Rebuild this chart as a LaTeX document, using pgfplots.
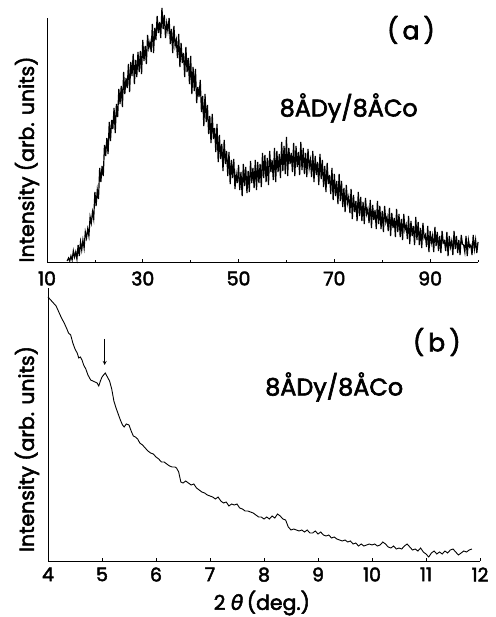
\documentclass[border=0pt]{standalone}
\usepackage{fontspec}
\setmainfont{Poppins}[FakeBold=2.5]
\newfontfamily\dejavu{DejaVu Sans}[FakeBold=2]
\usepackage{pgfplots}
\usepackage{pgfplotstable}
\pgfplotsset{compat=1.18}

\pgfplotstableread{
x y
14.2 1
14.5 4
14.75 1
15 6
15.25 2
15.5 11
15.75 5
16 10
16.25 3
16.5 17
16.75 6
17 20
17.25 12
17.5 22
17.75 14
18 30
18.25 24
18.5 33
18.75 26
19 45
19.25 39
19.5 50
19.75 43
20 70
20.25 56
20.5 72
20.75 63
21 94
21.25 80
21.5 96
21.75 86
22 117
22.25 106
22.5 124
22.75 108
23 140
23.25 121
23.5 142
23.75 133
24 154
24.25 129
24.5 158
24.75 145
25 173
25.25 158
25.5 176
25.75 155
26 190
26.25 168
26.5 184
26.75 174
27 198
27.25 170
27.5 200
27.75 186
28 208
28.25 178
28.5 202
28.75 185
29 210
29.25 190
29.5 211
29.75 188
30 222
30.25 201
30.5 216
30.75 198
31 227
31.25 214
31.5 220
31.75 210
32 238
32.25 209
32.5 234
32.75 222
33 246
33.25 229
33.5 240
33.75 224
34 254
34.25 233
34.5 247
34.75 224
35 239
35.25 231
35.5 244
35.75 218
36 233
36.25 209
36.5 236
36.75 216
37 222
37.25 204
37.5 228
37.75 195
38 219
38.25 199
38.5 209
38.75 185
39 215
39.25 190
39.5 204
39.75 178
40 206
40.25 168
40.5 195
40.75 171
41 193
41.25 159
41.5 175
41.75 165
42 182
42.25 150
42.5 166
42.75 136
43 168
43.25 140
43.5 157
43.75 128
44 146
44.25 119
44.5 148
44.75 123
45 134
45.25 110
45.5 138
45.75 100
46 127
46.25 103
46.5 118
46.75 91
47 122
47.25 98
47.5 111
47.75 86
48 110
48.25 78
48.5 102
48.75 84
49 103
49.25 73
49.5 88
49.75 79
50 97
50.25 72
50.5 90
50.75 66
51 98
51.25 76
51.5 95
51.75 69
52 91
52.25 70
52.5 101
52.75 79
53 94
53.25 74
53.5 102
53.75 72
54 100
54.25 79
54.5 98
54.75 75
55 109
55.25 84
55.5 107
55.75 80
56 104
56.25 77
56.5 111
56.75 90
57 102
57.25 82
57.5 114
57.75 80
58 111
58.25 90
58.5 108
58.75 84
59 120
59.25 91
59.5 116
59.75 88
60 125
60.25 86
60.5 114
60.75 98
61 109
61.25 90
61.5 119
61.75 86
62 116
62.25 95
62.5 110
62.75 87
63 120
63.25 92
63.5 114
63.75 88
64 109
64.25 85
64.5 113
64.75 94
65 102
65.25 85
65.5 111
65.75 80
66 106
66.25 87
66.5 100
66.75 77
67 108
67.25 83
67.5 102
67.75 75
68 96
68.25 70
68.5 99
68.75 78
69 87
69.25 68
69.5 94
69.75 62
70 88
70.25 66
70.5 81
70.75 58
71 88
71.25 61
71.5 81
71.75 55
72 74
72.25 50
72.5 77
72.75 59
73 65
73.25 49
73.5 73
73.75 43
74 67
74.25 50
74.5 61
74.75 41
75 70
75.25 46
75.5 65
75.75 41
76 60
76.25 38
76.5 64
76.75 48
77 53
77.25 39
77.5 62
77.75 34
78 57
78.25 42
78.5 52
78.75 33
79 61
79.25 38
79.5 56
79.75 33
80 51
80.25 30
80.5 56
80.75 40
81 45
81.25 31
81.5 54
81.75 26
82 49
82.25 34
82.5 44
82.75 25
83 53
83.25 30
83.5 48
83.75 25
84 43
84.25 22
84.5 48
84.75 32
85 37
85.25 23
85.5 46
85.75 18
86 41
86.25 26
86.5 36
86.75 17
87 45
87.25 22
87.5 40
87.75 17
88 34
88.25 14
88.5 39
88.75 24
89 27
89.25 15
89.5 36
89.75 10
90 31
90.25 19
90.5 26
90.75 10
91 35
91.25 16
91.5 30
91.75 11
92 26
92.25 9
92.5 31
92.75 19
93 21
93.25 11
93.5 30
93.75 6
94 26
94.25 15
94.5 21
94.75 7
95 31
95.25 13
95.5 26
95.75 9
96 22
96.25 7
96.5 27
96.75 18
97 17
97.25 10
97.5 26
97.75 6
98 22
98.25 15
98.5 17
98.75 7
99 27
99.25 13
99.5 22
99.75 9
100 20
}\dataA

\pgfplotstableread{
x y
4.00 264
4.05 261
4.10 258
4.15 255
4.20 249
4.25 243
4.30 238
4.35 232
4.38 228
4.42 226
4.46 218
4.50 212
4.54 208
4.57 203
4.60 204
4.63 201
4.66 196
4.70 192
4.74 186
4.79 181
4.83 180
4.87 179
4.91 178
4.94 175
4.97 180
5.00 184
5.03 186
5.06 188
5.10 184
5.14 180
5.18 172
5.22 160
5.26 153
5.30 147
5.34 141
5.38 136
5.41 134
5.45 137
5.50 136
5.54 130
5.58 125
5.62 124
5.66 122
5.70 118
5.75 116
5.80 113
5.85 110
5.90 108
5.95 107
6.00 104
6.05 102
6.10 99
6.15 99
6.20 97
6.25 95
6.30 94
6.35 94
6.38 93
6.42 89
6.46 79
6.50 78
6.55 80
6.60 78
6.65 76
6.70 77
6.75 73
6.80 71
6.85 69
6.90 68
6.95 66
7.00 65
7.05 64
7.10 62
7.15 64
7.20 60
7.25 58
7.30 59
7.35 55
7.40 57
7.45 56
7.50 57
7.55 53
7.60 52
7.65 50
7.70 50
7.75 49
7.80 48
7.85 46
7.90 44
7.95 44
8.00 42
8.05 44
8.10 42
8.15 45
8.20 43
8.25 47
8.30 45
8.35 42
8.40 41
8.45 34
8.50 31
8.55 32
8.60 31
8.65 30
8.70 31
8.75 29
8.80 31
8.85 28
8.90 28
8.95 30
9.00 27
9.05 29
9.10 26
9.15 25
9.20 26
9.25 23
9.30 24
9.35 22
9.40 21
9.45 20
9.50 21
9.55 19
9.60 20
9.65 17
9.70 18
9.75 15
9.80 17
9.85 15
9.90 16
9.95 17
10.00 16
10.05 17
10.10 15
10.15 16
10.20 19
10.25 17
10.30 14
10.35 13
10.40 15
10.45 12
10.50 13
10.55 12
10.60 15
10.65 17
10.70 14
10.75 11
10.80 12
10.85 10
10.90 13
10.95 9
11.00 7
11.05 4
11.10 8
11.15 10
11.20 7
11.25 9
11.30 7
11.35 10
11.40 8
11.45 11
11.50 12
11.55 9
11.60 6
11.65 8
11.70 10
11.75 9
11.80 11
11.85 12
}\dataB

\pgfplotsset{
  myaxis/.style={
    scale only axis,
    axis x line=bottom, axis y line=left,
    axis line style={-, line width=0.9pt},
    ytick=\empty,
    tick style={black, line width=0.6pt},
    major tick length=3bp, minor tick length=2bp,
    tick align=inside,
    ymin=0,
    clip=false,
    /pgf/number format/assume math mode=true,
    ticklabel style={font=\fontsize{19}{19}\selectfont},
    label style={font=\fontsize{20.5}{20.5}\selectfont},
  }
}

\begin{document}
\begin{tikzpicture}[x=1bp,y=1bp]
\path[use as bounding box] (0,0) rectangle (496,617);
% panel (a)
\begin{axis}[myaxis,
  at={(47bp,355bp)}, anchor=south west,
  width=431bp, height=244bp,
  xmin=10, xmax=100, ymax=244,
  xtick={10,30,50,70,90},
  minor xtick={20,40,60,80,100},
  ylabel={Intensity (arb. units)},
  y label style={at={(axis description cs:-0.0464,0.42)}, anchor=center},
  xticklabel style={yshift=-6bp},
]
\addplot[black, line width=1.2pt, mark=none] table[x=x,y=y] {\dataA};
\node[font=\fontsize{25}{25}\selectfont] at (axis cs:86,232) {(\,a\,)};
\node[font=\fontsize{24}{24}\selectfont] at (axis cs:73,154) {8ÅDy/8ÅCo};
\end{axis}
% panel (b)
\begin{axis}[myaxis,
  at={(48bp,56bp)}, anchor=south west,
  width=432bp, height=273bp,
  xmin=4, xmax=12, ymax=273,
  xtick={4,5,...,12},
  ylabel={Intensity (arb. units)},
  y label style={at={(axis description cs:-0.0486,0.41)}, anchor=center},
  xlabel={2\ {\dejavu\itshape θ}\,(deg.)},
  x label style={at={(axis description cs:0.495,-0.154)}, anchor=center},
  xticklabel style={yshift=-3bp},
]
\addplot[black, line width=0.9pt, mark=none] table[x=x,y=y] {\dataB};
\draw[->, line width=0.8pt, >=stealth] (axis cs:5.05,222) -- (axis cs:5.05,196);
\node[font=\fontsize{25}{25}\selectfont] at (axis cs:11.2,219) {(\,b\,)};
\node[font=\fontsize{24}{24}\selectfont] at (axis cs:9.3,174) {8ÅDy/8ÅCo};
\end{axis}
\end{tikzpicture}
\end{document}
